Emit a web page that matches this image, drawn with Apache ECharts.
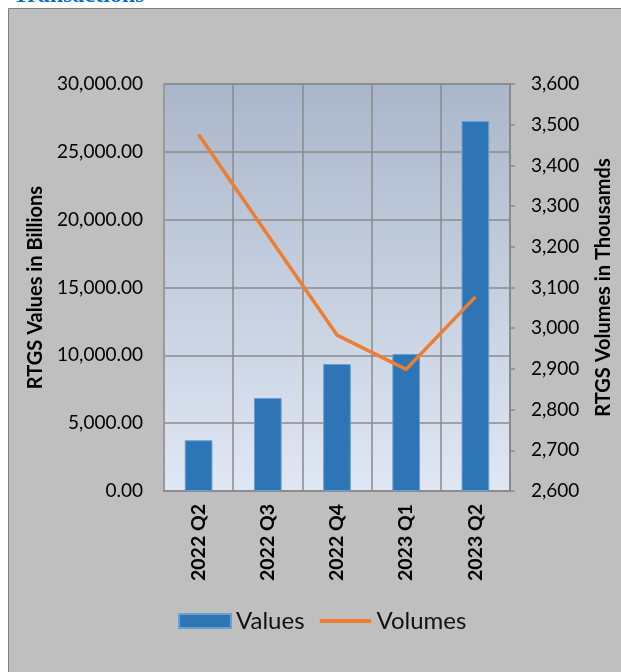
<!doctype html>
<html>
<head>
  <meta charset="UTF-8" />
  <title>RTGS Transactions</title>
  <script src="https://cdn.jsdelivr.net/npm/echarts@6/dist/echarts.min.js"></script>
  <style>
    html, body { margin: 0; padding: 0; background: #fff; }
    #chart { width: 621px; height: 672px; }
  </style>
</head>
<body>
  <div id="chart"></div>
  <script>
    const categories = ['2022 Q2', '2022 Q3', '2022 Q4', '2023 Q1', '2023 Q2'];
    const values = [3740, 6860, 9360, 10100, 27270];   // billions
    const volumes = [3476, 3229, 2983, 2899, 3077];    // thousands
    const valueTicks = [0, 30000, 5000];
    const volumeTicks = [2600, 3600, 100];

    const font = 'Lato';
    const gridCol = '#8a8a8a';
    const chart = echarts.init(document.getElementById('chart'));

    chart.setOption({
      animation: false,
      textStyle: { fontFamily: font, color: '#000' },
      graphic: [
        { type: 'rect', z: -10, shape: { x: 8.5, y: 8.5, width: 700, height: 700 },
          style: { fill: '#bfbfbf', stroke: '#7f7f7f', lineWidth: 1 } },
        { type: 'text', x: 13, y: 8, z: -5,
          style: { text: 'Transactions', fill: '#0a6fc2', font: 'bold 24px "Liberation Serif"', verticalAlign: 'bottom' } }
      ],
      grid: {
        left: 164, right: 111, top: 84, bottom: 181,
        outerBoundsMode: 'none',
        show: true, borderColor: gridCol, borderWidth: 1.5,
        backgroundColor: {
          type: 'linear', x: 0, y: 0, x2: 0, y2: 1,
          colorStops: [{ offset: 0, color: '#aab7ca' }, { offset: 1, color: '#e0e7f4' }]
        }
      },
      legend: {
        left: 173, top: 604, itemWidth: 52, itemHeight: 14, itemGap: 15,
        textStyle: { fontFamily: font, fontSize: 24, color: '#111' },
        data: [
          { name: 'Values', icon: 'rect' },
          { name: 'Volumes', icon: 'path://M2,0 L50,0 A2,2 0 0 1 50,4 L2,4 A2,2 0 0 1 2,0 Z', itemStyle: { color: '#ed7d31' } }
        ]
      },
      xAxis: {
        type: 'category', data: categories,
        axisLine: { lineStyle: { color: gridCol, width: 1.5 } },
        axisTick: { show: false },
        splitLine: { show: true, lineStyle: { color: gridCol, width: 1.5 } },
        axisLabel: { rotate: 90, margin: 13, fontFamily: font, fontSize: 19.5, fontWeight: 'bold', color: '#000' }
      },
      yAxis: [
        {
          type: 'value', min: valueTicks[0], max: valueTicks[1], interval: valueTicks[2],
          name: 'RTGS Values in Billions', nameLocation: 'middle', nameGap: 118,
          nameTextStyle: { fontFamily: font, fontSize: 20, fontWeight: 'bold', color: '#000' },
          axisLine: { show: true, lineStyle: { color: '#9a9a9a', width: 2 } },
          axisTick: { show: false },
          splitLine: { lineStyle: { color: gridCol, width: 1.5 } },
          axisLabel: {
            margin: 21, fontFamily: font, fontSize: 19, color: '#000',
            formatter: v => v.toLocaleString('en-US', { minimumFractionDigits: 2, maximumFractionDigits: 2 })
          }
        },
        {
          type: 'value', position: 'right', min: volumeTicks[0], max: volumeTicks[1], interval: volumeTicks[2],
          name: 'RTGS Volumes in Thousamds', nameLocation: 'middle', nameGap: 84, nameRotate: 90,
          nameTextStyle: { fontFamily: font, fontSize: 20, fontWeight: 'bold', color: '#000' },
          axisLine: { show: true, lineStyle: { color: gridCol, width: 1.5 } },
          axisTick: { show: true, length: 5, lineStyle: { color: gridCol, width: 1.5 } },
          splitLine: { show: false },
          axisLabel: {
            margin: 21, fontFamily: font, fontSize: 19, color: '#000',
            formatter: v => v.toLocaleString('en-US')
          }
        }
      ],
      series: [
        {
          name: 'Values', type: 'bar', data: values, barWidth: '40%',
          itemStyle: { color: '#2e75b6', borderColor: '#6a9fd2', borderWidth: 1 }
        },
        {
          name: 'Volumes', type: 'line', yAxisIndex: 1, data: volumes,
          symbol: 'none', lineStyle: { color: '#ed7d31', width: 3.5 }, itemStyle: { color: '#ed7d31' }
        }
      ]
    });
  </script>
</body>
</html>
